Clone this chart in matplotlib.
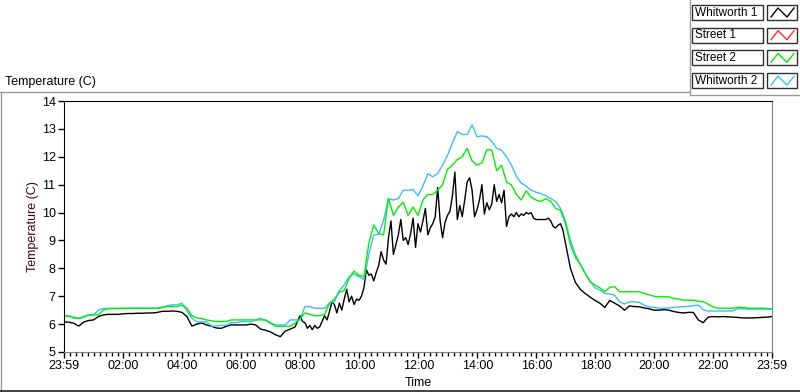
import numpy as np
import matplotlib
matplotlib.use('Agg')
from matplotlib import pyplot as plt
from matplotlib.patches import Rectangle
from matplotlib.lines import Line2D

plt.rcParams['font.family'] = ['Liberation Sans', 'DejaVu Sans']

# 图例名称和颜色
series_names = ['Whitworth 1', 'Street 1', 'Street 2', 'Whitworth 2']
series_colors = ['#000000', '#ff3030', '#00f000', '#3cbcff']

# x 轴刻度 (从 23:59 开始的小时数)
tick_labels = ['23:59', '02:00', '04:00', '06:00', '08:00', '10:00', '12:00',
               '14:00', '16:00', '18:00', '20:00', '22:00', '23:59']

# Whitworth 1: 0-8h 每10分钟, 8-17h 每5分钟, 17-24h 每10分钟
w1_early = [6.08, 6.07, 6.03, 5.93, 6.07, 6.13,
            6.15, 6.27, 6.33, 6.35, 6.35, 6.35,
            6.37, 6.38, 6.38, 6.39, 6.39, 6.40,
            6.40, 6.42, 6.46, 6.46, 6.47, 6.46,
            6.42, 6.27, 5.93, 6.00, 6.04, 5.97,
            5.92, 5.86, 5.85, 5.92, 5.97, 5.97,
            5.97, 5.97, 6.00, 5.97, 5.82, 5.78,
            5.72, 5.62, 5.55, 5.75, 5.82, 5.90]
w1_mid = [6.30, 6.10, 6.05, 5.85, 5.95, 5.80, 5.95, 5.85, 5.90, 6.10, 6.30, 6.15,
          6.45, 6.80, 6.70, 6.40, 6.75, 6.50, 6.90, 7.25, 6.80, 7.00, 6.70, 6.90,
          6.85, 7.00, 7.30, 7.95, 7.75, 7.80, 7.55, 7.85, 8.10, 8.60, 8.30, 8.15,
          9.10, 9.70, 8.50, 8.85, 9.20, 9.75, 9.00, 9.10, 8.85, 9.25, 9.80, 8.75,
          9.60, 9.30, 9.70, 10.15, 9.20, 9.45, 9.60, 9.85, 10.90, 9.70, 9.10, 9.65,
          9.90, 10.05, 10.60, 11.45, 9.75, 10.25, 9.85, 10.45, 11.10, 11.25, 10.80, 9.85,
          10.10, 10.45, 11.00, 9.95, 10.35, 10.10, 10.30, 11.00, 10.40, 10.65, 10.35, 10.80,
          9.50, 9.85, 9.95, 9.85, 10.00, 9.85, 9.95, 9.90, 10.00, 9.95, 10.00, 9.80,
          9.75, 9.75, 9.75, 9.75, 9.75, 9.80, 9.70, 9.50, 9.45, 9.55, 9.60, 9.35]
w1_late = [8.90, 8.00, 7.50, 7.25, 7.10, 6.97,
           6.85, 6.75, 6.60, 6.85, 6.75, 6.65,
           6.50, 6.65, 6.63, 6.62, 6.58, 6.55,
           6.50, 6.50, 6.52, 6.50, 6.45, 6.42,
           6.40, 6.42, 6.42, 6.15, 6.05, 6.25,
           6.27, 6.26, 6.27, 6.26, 6.25, 6.24,
           6.22, 6.22, 6.22, 6.23, 6.24, 6.25,
           6.27]

# Street 1: 没有数据
street1 = []

# Street 2: 每10分钟
street2 = [6.29, 6.29, 6.24, 6.20, 6.25, 6.33,
           6.33, 6.33, 6.50, 6.56, 6.56, 6.56,
           6.57, 6.57, 6.57, 6.57, 6.57, 6.57,
           6.57, 6.57, 6.60, 6.63, 6.63, 6.63,
           6.68, 6.57, 6.30, 6.22, 6.20, 6.15,
           6.12, 6.09, 6.09, 6.09, 6.15, 6.15,
           6.15, 6.15, 6.15, 6.15, 6.15, 6.15,
           6.03, 5.92, 5.92, 5.92, 5.92, 6.03,
           6.20, 6.40, 6.35, 6.30, 6.30, 6.35,
           6.75, 6.90, 7.15, 7.20, 7.65, 7.90,
           7.75, 7.70, 8.90, 9.55, 9.25, 9.20,
           10.50, 9.90, 10.20, 10.37, 9.90, 10.20,
           9.90, 10.45, 10.65, 10.65, 10.80, 11.00,
           11.55, 11.70, 11.90, 12.00, 12.30, 11.85,
           11.70, 11.78, 12.25, 12.25, 11.50, 11.70,
           11.10, 10.99, 10.65, 10.45, 10.78, 10.55,
           10.45, 10.40, 10.50, 10.40, 10.15, 10.08,
           9.60, 8.85, 8.40, 8.15, 7.82, 7.52,
           7.40, 7.30, 7.16, 7.32, 7.34, 7.16,
           7.16, 7.16, 7.16, 7.16, 7.10, 7.05,
           7.00, 6.98, 6.98, 6.98, 6.92, 6.90,
           6.86, 6.86, 6.86, 6.82, 6.80, 6.72,
           6.62, 6.57, 6.57, 6.57, 6.57, 6.60,
           6.60, 6.57, 6.57, 6.57, 6.57, 6.56,
           6.54]

# Whitworth 2: 每10分钟
w2 = [6.29, 6.29, 6.21, 6.21, 6.27, 6.33,
      6.33, 6.50, 6.56, 6.56, 6.56, 6.56,
      6.56, 6.56, 6.57, 6.57, 6.57, 6.57,
      6.57, 6.57, 6.60, 6.66, 6.69, 6.69,
      6.75, 6.47, 6.22, 6.08, 6.08, 6.08,
      5.93, 5.93, 5.96, 5.96, 6.05, 6.05,
      6.09, 6.09, 6.09, 6.15, 6.21, 6.13,
      6.05, 5.97, 5.97, 5.97, 6.15, 6.15,
      6.15, 6.63, 6.63, 6.57, 6.57, 6.57,
      6.75, 6.81, 7.20, 7.41, 7.70, 7.80,
      7.70, 7.60, 8.50, 9.20, 9.22, 9.73,
      10.50, 10.45, 10.50, 10.80, 10.80, 10.82,
      10.60, 10.95, 11.40, 11.28, 11.40, 11.70,
      12.05, 12.50, 12.90, 12.80, 12.80, 13.14,
      12.72, 12.75, 12.72, 12.55, 12.30, 12.24,
      12.00, 11.70, 11.30, 11.06, 10.95, 10.80,
      10.73, 10.68, 10.60, 10.50, 10.40, 10.15,
      9.70, 9.00, 8.50, 8.15, 7.82, 7.55,
      7.30, 7.22, 7.10, 7.08, 7.04, 6.80,
      6.72, 6.80, 6.80, 6.78, 6.68, 6.62,
      6.60, 6.57, 6.57, 6.58, 6.60, 6.62,
      6.62, 6.64, 6.66, 6.68, 6.52, 6.47,
      6.47, 6.47, 6.47, 6.47, 6.47, 6.55,
      6.55, 6.54, 6.54, 6.54, 6.54, 6.54,
      6.54]

t_w1 = np.concatenate([np.arange(48) / 6, 8 + np.arange(108) / 12, 17 + np.arange(43) / 6])
w1 = w1_early + w1_mid + w1_late
t10 = np.arange(len(street2)) / 6


def hours_since_start(label, idx):
    if idx == 0:
        return 0.0
    if idx == len(tick_labels) - 1:
        return 24.0
    h, m = label.split(':')
    return int(h) + int(m) / 60 + 1 / 60


W, H = 800, 392
fig = plt.figure(figsize=(W / 100, H / 100), dpi=100)
fig.patch.set_facecolor('white')


def fx(x):
    return x / W


def fy(y):
    return 1 - y / H


ax = fig.add_axes([fx(64), fy(352), (772 - 64) / W, (352 - 101) / H])
ax.plot(t_w1, w1, color=series_colors[0], lw=1)
ax.plot(np.arange(len(street1)) / 6, street1, color=series_colors[1], lw=1)
ax.plot(t10, w2, color=series_colors[3], lw=1)
ax.plot(t10, street2, color=series_colors[2], lw=1)

ax.set_xlim(0, 24)
ax.set_ylim(5, 14)
ax.set_yticks(range(5, 15))
major = [hours_since_start(l, i) for i, l in enumerate(tick_labels)]
ax.set_xticks(major)
ax.set_xticklabels(tick_labels)
minor = [m for m in np.arange(major[1] - 2.0, 24, 0.2)
         if 0 < m < 24 and min(abs(m - mj) for mj in major) > 0.05]
ax.set_xticks(minor, minor=True)
ax.tick_params(axis='both', which='major', direction='out', length=4, width=1,
               labelsize=9, pad=2, colors='black')
ax.tick_params(axis='x', which='minor', direction='out', length=3, width=1)
ax.spines['left'].set_color('black')
ax.spines['top'].set_color('black')
ax.spines['bottom'].set_color('#808080')
ax.spines['right'].set_color('#808080')
ax.set_xlabel('Time', fontsize=9, labelpad=3)
ax.set_ylabel('Temperature (C)', fontsize=9, labelpad=2, color='#3a0a0a')

# 外框
def fline(xs, ys, color, lw=1):
    fig.add_artist(Line2D([fx(x) for x in xs], [fy(y) for y in ys],
                          color=color, lw=lw, transform=fig.transFigure))

fline([0, 690], [92, 92], '#9a9a9a')
fline([1, 1], [92, 391], '#9a9a9a')
fline([0, 800], [391, 391], '#202020', 1.2)
fline([690, 690], [0, 95], '#9a9a9a')
fline([690, 800], [95, 95], '#9a9a9a')

fig.text(fx(5), fy(82), 'Temperature (C)', fontsize=9, va='center', ha='left')

# 图例
for i, (name, col) in enumerate(zip(series_names, series_colors)):
    top = 5 + i * 22.7
    fig.add_artist(Rectangle((fx(692), fy(top + 15)), 71 / W, 15 / H, fill=False,
                             edgecolor='#303030', lw=1, transform=fig.transFigure))
    fig.text(fx(695), fy(top + 7.5), name, fontsize=8.5, va='center', ha='left')
    fig.add_artist(Rectangle((fx(767), fy(top + 15)), 30 / W, 15 / H, fill=False,
                             edgecolor='#303030', lw=1, transform=fig.transFigure))
    fline([771, 778, 787, 794], [top + 12, top + 3, top + 12, top + 3], col)

plt.savefig('out.png', dpi=100)
